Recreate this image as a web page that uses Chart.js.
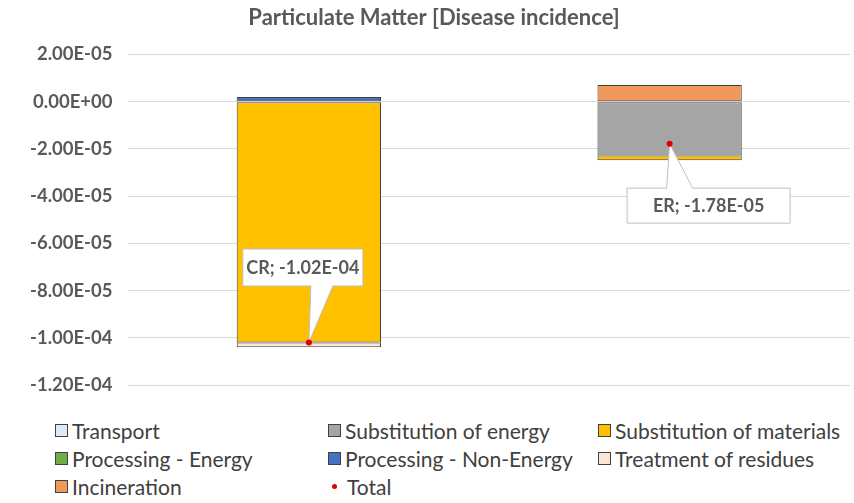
<!DOCTYPE html>
<html>
<head>
<meta charset="utf-8">
<script src="https://cdn.jsdelivr.net/npm/chart.js@4.4.1/dist/chart.umd.min.js"></script>
<style>
  body { margin: 0; background: #fff; font-family: Lato, "Open Sans", sans-serif; }
  #wrap { position: relative; width: 854px; height: 414px; }
  #legend { display: grid; grid-template-columns: 273px 270px 260px; margin-left: 55px; margin-top: 4px; row-gap: 3px; }
  .item { display: flex; align-items: center; font-size: 21px; color: #404040; height: 25px; white-space: nowrap; }
  .box { width: 11px; height: 11px; border: 1px solid #404040; margin-right: 4px; flex: none; }
  .dot { width: 5px; height: 5px; border-radius: 50%; background: #e00000; margin: 0 10px 0 4px; flex: none; }
</style>
</head>
<body>
<div id="wrap"><canvas id="chart"></canvas></div>
<div id="legend"></div>
<script>
// bar categories and stacked components (disease incidence)
const categories = ["CR", "ER"];
const transport = [null, null];
const substitutionEnergy = [null, -2.28e-5];
const substitutionMaterials = [-1.02e-4, -2.0e-6];
const processingEnergy = [null, null];
const processingNonEnergy = [2.0e-6, null];
const treatmentResidues = [-2.0e-6, null];
const incineration = [null, 7.0e-6];
const total = [-1.02e-4, -1.78e-5];
const yTicks = [2e-5, 0, -2e-5, -4e-5, -6e-5, -8e-5, -1e-4, -1.2e-4];

function fmtE(v) {
  if (Math.abs(v) < 1e-12) v = 0;
  const parts = v.toExponential(2).split("e");
  const exp = parts[1];
  return parts[0] + "E" + exp[0] + exp.slice(1).padStart(2, "0");
}

const edge = "#404040";
function barSet(label, data, color) {
  return { label, data, backgroundColor: color, borderColor: edge, borderWidth: 1,
    borderSkipped: false, stack: "parts", barPercentage: 0.8, categoryPercentage: 0.5 };
}

const datasets = [
  barSet("Transport", transport, "#deebf7"),
  barSet("Substitution of energy", substitutionEnergy, "#a5a5a5"),
  barSet("Substitution of materials", substitutionMaterials, "#ffc000"),
  barSet("Processing - Energy", processingEnergy, "#70ad47"),
  barSet("Processing - Non-Energy", processingNonEnergy, "#4472c4"),
  barSet("Treatment of residues", treatmentResidues, "#fbe5d6"),
  barSet("Incineration", incineration, "#f0995a"),
  { type: "line", label: "Total", data: total, showLine: false, stack: "total",
    pointRadius: 3, pointBackgroundColor: "#e00000", pointBorderWidth: 0 }
];

// callout boxes next to the total points
const callouts = [
  { dx: -6, dy: -75, w: 120, h: 37 },
  { dx: 39, dy: 62, w: 163, h: 35 }
];

const calloutPlugin = {
  id: "callouts",
  afterDatasetsDraw(chart) {
    const ctx = chart.ctx;
    const idx = chart.data.datasets.length - 1;
    const meta = chart.getDatasetMeta(idx);
    meta.data.forEach((pt, i) => {
      const c = callouts[i];
      const cx = pt.x + c.dx, cy = pt.y + c.dy;
      const l = cx - c.w / 2, t = cy - c.h / 2, r = cx + c.w / 2, b = cy + c.h / 2;
      ctx.save();
      ctx.fillStyle = "#fff";
      ctx.strokeStyle = "#bfbfbf";
      ctx.lineWidth = 1;
      ctx.beginPath();
      if (c.dy < 0) {
        ctx.moveTo(l, t); ctx.lineTo(r, t); ctx.lineTo(r, b);
        ctx.lineTo(cx + 30, b); ctx.lineTo(pt.x, pt.y); ctx.lineTo(cx + 8, b);
        ctx.lineTo(l, b); ctx.closePath();
      } else {
        ctx.moveTo(l, t); ctx.lineTo(cx - 42, t); ctx.lineTo(pt.x, pt.y);
        ctx.lineTo(cx - 16, t); ctx.lineTo(r, t); ctx.lineTo(r, b);
        ctx.lineTo(l, b); ctx.closePath();
      }
      ctx.fill();
      ctx.stroke();
      ctx.fillStyle = "#595959";
      ctx.font = "bold 18px Lato";
      ctx.textAlign = "center";
      ctx.textBaseline = "middle";
      ctx.fillText(chart.data.labels[i] + "; " + fmtE(chart.data.datasets[idx].data[i]), cx, cy + 1);
      ctx.restore();
      // redraw the point on top
      ctx.save();
      ctx.fillStyle = "#e00000";
      ctx.beginPath();
      ctx.arc(pt.x, pt.y, 3, 0, Math.PI * 2);
      ctx.fill();
      ctx.restore();
    });
  }
};

new Chart(document.getElementById("chart"), {
  type: "bar",
  data: { labels: categories, datasets },
  plugins: [calloutPlugin],
  options: {
    responsive: true,
    maintainAspectRatio: false,
    animation: false,
    layout: { padding: { left: 14, right: 0, top: 0, bottom: 21 } },
    plugins: {
      legend: { display: false },
      tooltip: { enabled: false },
      title: {
        display: true,
        text: "Particulate Matter [Disease incidence]",
        color: "#595959",
        font: { family: "Lato", size: 22, weight: "bold" },
        padding: { top: 5, bottom: 23 }
      }
    },
    scales: {
      x: { stacked: true, display: true, grid: { display: false }, border: { display: false },
        ticks: { display: false } },
      y: {
        stacked: true,
        min: -1.2e-4, max: 2e-5,
        afterBuildTicks: (axis) => { axis.ticks = yTicks.map(v => ({ value: v })); },
        grid: { color: "#d9d9d9", drawTicks: false },
        border: { display: false },
        ticks: { padding: 16, color: "#595959", font: { family: "Lato", size: 18.5, weight: "bold" },
          callback: (v) => fmtE(v) }
      }
    }
  }
});

// legend in three columns, like the original
const legendEl = document.getElementById("legend");
datasets.forEach(d => {
  const div = document.createElement("div");
  div.className = "item";
  const mark = document.createElement("span");
  if (d.type === "line") {
    mark.className = "dot";
  } else {
    mark.className = "box";
    mark.style.background = d.backgroundColor;
  }
  div.appendChild(mark);
  div.appendChild(document.createTextNode(d.label));
  legendEl.appendChild(div);
});
</script>
</body>
</html>
